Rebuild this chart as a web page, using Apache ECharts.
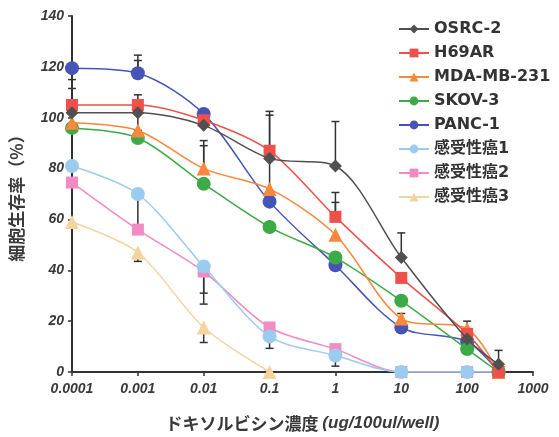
<!DOCTYPE html>
<html><head><meta charset="utf-8">
<script src="https://cdn.jsdelivr.net/npm/echarts@6/dist/echarts.min.js"></script>
<style>html,body{margin:0;padding:0;background:#fff}#c{width:559px;height:437px}</style>
</head><body><div id="c"></div>
<script>
const doses = [0.0001, 0.001, 0.01, 0.1, 1, 10, 100, 300];
const seriesNames = ['OSRC-2','H69AR','MDA-MB-231','SKOV-3','PANC-1','感受性癌1','感受性癌2','感受性癌3'];
const osrc2   = [102, 102, 97, 84, 81, 45, 13, 3];
const h69ar   = [105, 105, 99, 87, 61, 37, 15, 0];
const mda     = [98, 95, 80, 72, 54, 21, 17, 0];
const skov3   = [96, 92, 74, 57, 45, 28, 9, 0];
const panc1   = [119.5, 117.5, 101.5, 67, 42, 17.5, 12, 0];
const sens1   = [81, 70, 41.5, 14, 6.5, 0, 0, 0];
const sens2   = [74.5, 56, 39.5, 17.5, 9, 0, 0, 0];
const sens3   = [59, 47, 17.5, 0];
const yTicks = [0, 20, 40, 60, 80, 100, 120, 140];
// error bars: [dose, from value, cap value]
const errorBars = [
  [0.0001, 119.5, 111.5], [0.0001, 105, 115],
  [0.001, 117.5, 124.6], [0.001, 117.5, 122.5], [0.001, 105, 109], [0.001, 105, 95],
  [0.001, 70, 56], [0.001, 47, 43.5],
  [0.01, 80, 91], [0.01, 80, 89], [0.01, 39.5, 31], [0.01, 39.5, 26.7], [0.01, 17.5, 11.6],
  [0.1, 87, 102.5], [0.1, 87, 101], [0.1, 87, 67], [0.1, 14, 9.3],
  [1, 81, 98.5], [1, 61, 70.6], [1, 61, 66.7], [1, 6.5, 2.3],
  [10, 45, 54.7], [10, 21, 23],
  [100, 17, 20],
  [300, 3, 8.5]
];
const values = [osrc2, h69ar, mda, skov3, panc1, sens1, sens2, sens3];
const colors = ['#505050','#f0504a','#f8883c','#3daa48','#4654b6','#9ccbf0','#f08cc2','#f5d39e'];
const symbols = ['diamond','rect','triangle','circle','circle','circle','rect','triangle'];
const sizes = [13, 12, 14, 14, 14, 14, 12, 14];

const chart = echarts.init(document.getElementById('c'));
const lineSeries = seriesNames.map((n, i) => ({
  name: n, type: 'line', smooth: 0.3,
  data: values[i].map((v, j) => [doses[j], v]),
  symbol: symbols[i], symbolSize: sizes[i],
  itemStyle: {color: colors[i]},
  lineStyle: {color: colors[i], width: 1.5},
  z: 13 - i * 0.1
}));
const errSeries = {
  type: 'custom', name: 'err', z: 5,
  data: errorBars,
  renderItem: function (params, api) {
    const p0 = api.coord([api.value(0), api.value(1)]);
    const p1 = api.coord([api.value(0), api.value(2)]);
    return {type: 'group', children: [
      {type: 'line', shape: {x1: p0[0], y1: p0[1], x2: p1[0], y2: p1[1]}, style: {stroke: '#333', lineWidth: 1.5}},
      {type: 'line', shape: {x1: p1[0] - 4, y1: p1[1], x2: p1[0] + 4, y2: p1[1]}, style: {stroke: '#333', lineWidth: 1.5}}
    ]};
  },
  silent: true
};
chart.setOption({
  animation: false,
  grid: {left: 70, right: 26, top: 16, bottom: 60},
  legend: {
    data: seriesNames, orient: 'vertical', left: 393, top: 16,
    itemWidth: 30, itemHeight: 11, itemGap: 8,
    textStyle: {fontFamily: 'DejaVu Sans, Noto Sans CJK JP', fontWeight: 'bold', fontSize: 16, color: '#333'}
  },
  xAxis: {
    type: 'log', logBase: 10, min: 0.0001, max: 1000,
    name: '{a|ドキソルビシン濃度 }{b|(ug/100ul/well)}', nameLocation: 'middle', nameGap: 43,
    nameTextStyle: {
      rich: {
        a: {fontFamily: 'Noto Sans CJK JP', fontWeight: 'bold', fontSize: 17, color: '#3a3a3a'},
        b: {fontFamily: 'Liberation Sans', fontWeight: 'bold', fontStyle: 'italic', fontSize: 17, color: '#3a3a3a'}
      }
    },
    axisLine: {lineStyle: {color: '#333', width: 2}},
    axisTick: {show: true, length: 4, lineStyle: {color: '#333', width: 1.5}},
    minorTick: {show: false},
    splitLine: {show: false},
    axisLabel: {fontFamily: 'Liberation Sans', fontWeight: 'bold', fontStyle: 'italic', fontSize: 14, color: '#3a3a3a', margin: 10,
      formatter: function (v) { return String(Number(v.toPrecision(6))); }}
  },
  yAxis: {
    type: 'value', min: 0, max: 140, interval: 20,
    name: '細胞生存率（%）', nameLocation: 'middle', nameGap: 47, nameRotate: 90,
    nameTextStyle: {fontFamily: 'Noto Sans CJK JP', fontWeight: 'bold', fontSize: 17, color: '#3a3a3a'},
    axisLine: {show: true, lineStyle: {color: '#333', width: 2}},
    axisTick: {show: true, length: 4, lineStyle: {color: '#333', width: 1.5}},
    splitLine: {show: false},
    axisLabel: {fontFamily: 'Liberation Sans', fontWeight: 'bold', fontStyle: 'italic', fontSize: 14, color: '#3a3a3a', margin: 8,
      formatter: function (v) { return yTicks.indexOf(v) >= 0 ? String(v) : ''; }}
  },
  series: [errSeries].concat(lineSeries)
});
</script></body></html>
